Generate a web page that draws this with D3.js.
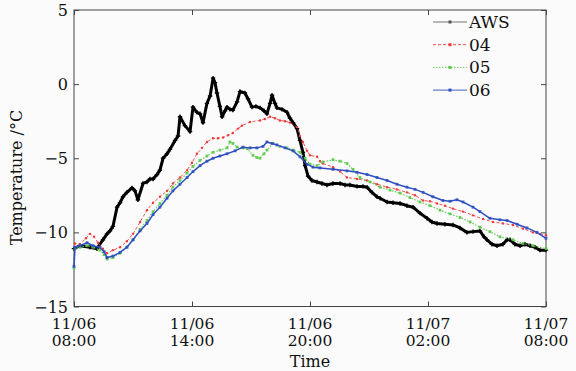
<!DOCTYPE html>
<html>
<head>
<meta charset="utf-8">
<script src="https://cdn.jsdelivr.net/npm/d3@7"></script>
<style>
  html, body { margin: 0; padding: 0; background: #fbfbfb; }
  svg { display: block; }
  text { font-family: 'DejaVu Serif', 'Liberation Serif', serif; fill: #111; }
</style>
</head>
<body>
<svg id="chart"></svg>
<script>
// hours after 11/06 08:00, temperature in degC
const awsHours = [0, 0.3, 0.81, 1.17, 1.47, 1.68, 1.83, 1.98, 2.19, 2.34, 2.49, 2.69, 2.95, 3.1, 3.25, 3.51, 3.71, 3.86, 4.02, 4.22, 4.37, 4.53, 4.73, 4.88, 5.14, 5.29, 5.39, 5.64, 5.9, 6.05, 6.25, 6.41, 6.56, 6.76, 6.92, 7.07, 7.17, 7.27, 7.42, 7.53, 7.68, 7.78, 7.93, 8.08, 8.29, 8.44, 8.69, 8.85, 9.05, 9.25, 9.46, 9.66, 9.81, 9.97, 10.07, 10.22, 10.32, 10.58, 10.83, 10.98, 11.14, 11.34, 11.49, 11.64, 11.75, 11.9, 12.1, 12.36, 12.61, 12.86, 13.17, 13.53, 13.78, 14.03, 14.39, 14.69, 14.9, 15.15, 15.41, 15.56, 15.92, 16.22, 16.58, 16.93, 17.24, 17.59, 17.95, 18.2, 18.46, 18.86, 19.27, 19.63, 19.98, 20.29, 20.64, 20.85, 21.0, 21.25, 21.51, 21.81, 22.02, 22.17, 22.42, 22.68, 22.93, 23.19, 23.44, 23.69, 24.0];
const awsTemp = [-11.1, -10.9, -11.0, -11.1, -10.5, -10.1, -9.9, -9.6, -8.3, -8.0, -7.6, -7.3, -7.0, -7.2, -7.8, -6.7, -6.6, -6.4, -6.4, -6.1, -5.8, -5.0, -4.7, -4.4, -3.8, -3.5, -2.2, -2.8, -3.2, -1.55, -1.9, -2.0, -2.6, -1.3, -0.8, 0.4, 0.1, -0.6, -1.5, -2.2, -1.8, -1.55, -1.7, -1.75, -1.2, -0.5, -0.6, -1.0, -1.55, -1.5, -1.6, -1.8, -2.0, -1.3, -0.75, -1.3, -1.6, -1.7, -1.9, -2.3, -2.6, -3.0, -3.8, -4.6, -5.5, -6.2, -6.5, -6.6, -6.7, -6.8, -6.7, -6.7, -6.8, -6.8, -6.9, -6.9, -6.95, -7.3, -7.6, -7.7, -7.95, -8.0, -8.05, -8.2, -8.3, -8.7, -9.05, -9.3, -9.4, -9.45, -9.5, -9.7, -10.0, -9.95, -9.9, -10.3, -10.5, -10.8, -10.9, -10.8, -10.5, -10.5, -10.8, -10.9, -10.8, -10.9, -11.0, -11.2, -11.2];

const s04Hours = [0, 0.05, 0.3, 0.61, 0.81, 1.02, 1.22, 1.47, 1.68, 1.98, 2.34, 2.69, 3.0, 3.36, 3.71, 4.02, 4.37, 4.73, 5.03, 5.39, 5.75, 6.0, 6.25, 6.51, 6.76, 7.07, 7.32, 7.58, 7.83, 8.08, 8.34, 8.54, 8.95, 9.46, 9.71, 9.97, 10.22, 10.47, 10.73, 10.98, 11.34, 11.49, 11.64, 11.85, 12.0, 12.36, 12.51, 12.66, 13.17, 13.53, 13.88, 14.39, 14.9, 15.41, 15.92, 16.42, 16.93, 17.34, 17.75, 18.1, 18.46, 18.86, 19.27, 19.78, 20.29, 20.8, 21.3, 21.81, 22.32, 22.83, 23.34, 23.69, 24.0];
const s04Temp = [-12.2, -10.75, -10.8, -10.4, -10.1, -10.3, -10.7, -11.1, -11.4, -11.2, -11.0, -10.6, -10.1, -9.3, -8.5, -8.0, -7.6, -7.2, -6.7, -6.3, -5.8, -5.3, -4.7, -4.3, -3.9, -3.65, -3.65, -3.6, -3.45, -3.3, -3.0, -2.8, -2.55, -2.45, -2.35, -2.2, -2.3, -2.45, -2.5, -2.6, -2.9, -3.5, -3.9, -4.5, -4.8, -4.9, -5.2, -5.35, -5.6, -5.9, -6.3, -6.4, -6.5, -6.75, -6.95, -7.1, -7.3, -7.5, -7.85, -7.9, -8.05, -8.2, -8.4, -8.6, -8.85, -9.1, -9.3, -9.4, -9.5, -9.75, -10.0, -10.1, -10.2];

const s05Hours = [0, 0.05, 0.3, 0.66, 0.97, 1.32, 1.53, 1.68, 1.98, 2.34, 2.69, 3.0, 3.36, 3.71, 4.02, 4.37, 4.73, 5.03, 5.39, 5.75, 6.05, 6.41, 6.76, 7.07, 7.42, 7.78, 7.93, 8.08, 8.29, 8.59, 8.8, 9.1, 9.3, 9.46, 9.66, 9.81, 10.12, 10.47, 10.83, 11.14, 11.49, 11.75, 12.0, 12.36, 12.66, 13.17, 13.53, 13.88, 14.19, 14.54, 15.05, 15.56, 16.07, 16.58, 17.08, 17.59, 18.1, 18.61, 19.12, 19.63, 20.14, 20.64, 21.15, 21.66, 22.32, 22.83, 23.34, 24.0];
const s05Temp = [-12.4, -11.1, -11.0, -10.9, -11.0, -11.2, -11.5, -11.8, -11.7, -11.4, -11.0, -10.5, -9.8, -9.2, -8.6, -8.05, -7.5, -6.95, -6.5, -6.0, -5.55, -5.15, -4.85, -4.6, -4.45, -4.3, -3.9, -4.0, -4.25, -4.3, -4.35, -4.8, -4.95, -5.0, -4.7, -4.45, -4.0, -4.2, -4.3, -4.45, -4.6, -5.0, -5.4, -5.5, -5.25, -5.1, -5.2, -5.35, -5.75, -6.3, -6.6, -6.95, -7.15, -7.35, -7.65, -7.95, -8.2, -8.5, -8.75, -9.0, -9.3, -9.65, -9.95, -10.3, -10.5, -10.75, -10.9, -11.1];

const s06Hours = [0, 0.05, 0.3, 0.66, 0.97, 1.32, 1.53, 1.68, 1.98, 2.34, 2.69, 3.0, 3.36, 3.71, 4.02, 4.37, 4.73, 5.03, 5.39, 5.75, 6.05, 6.41, 6.76, 7.07, 7.42, 7.78, 8.19, 8.59, 8.95, 9.3, 9.61, 9.81, 10.07, 10.32, 10.73, 11.14, 11.49, 11.85, 12.15, 12.51, 13.17, 13.88, 14.39, 14.9, 15.41, 15.92, 16.42, 16.93, 17.34, 17.75, 18.25, 18.76, 19.12, 19.47, 19.78, 20.29, 20.64, 21.15, 21.66, 22.02, 22.53, 23.03, 23.54, 24.0];
const s06Temp = [-12.3, -11.0, -10.9, -10.7, -10.9, -11.0, -11.3, -11.7, -11.6, -11.35, -11.0, -10.5, -9.9, -9.4, -8.8, -8.3, -7.7, -7.2, -6.75, -6.3, -5.9, -5.5, -5.2, -5.0, -4.85, -4.7, -4.5, -4.25, -4.3, -4.3, -4.2, -3.9, -4.0, -4.1, -4.3, -4.5, -4.9, -5.4, -5.6, -5.65, -5.75, -5.85, -5.95, -6.1, -6.3, -6.5, -6.75, -6.95, -7.1, -7.3, -7.6, -7.85, -7.9, -7.8, -7.95, -8.3, -8.6, -9.05, -9.15, -9.2, -9.45, -9.7, -10.0, -10.4];

const seriesNames = ['AWS', '04', '05', '06'];
const yTicks = [5, 0, -5, -10, -15];
const xTickHours = [0, 6, 12, 18, 24];

const start = new Date(2014, 10, 6, 8, 0);
const toDate = h => new Date(start.getTime() + h * 3600 * 1000);

const width = 576, height = 371;
const margin = { top: 10, right: 30, bottom: 64, left: 74 };
const plotW = width - margin.left - margin.right;
const plotH = height - margin.top - margin.bottom - 0.5;

const svg = d3.select('#chart')
    .attr('width', width)
    .attr('height', height);

const x = d3.scaleTime()
    .domain([start, toDate(24)])
    .range([margin.left, margin.left + plotW]);
const y = d3.scaleLinear()
    .domain([-15, 5])
    .range([margin.top + plotH, margin.top]);

const zip = (hs, ts) => hs.map((h, i) => ({ t: toDate(h), v: ts[i] }));
const series = [
    { name: seriesNames[0], data: zip(awsHours, awsTemp), color: '#000', width: 3, dash: null, marker: 'plus' },
    { name: seriesNames[1], data: zip(s04Hours, s04Temp), color: '#f03a3a', width: 0.9, dash: '3,2', marker: 'dot' },
    { name: seriesNames[2], data: zip(s05Hours, s05Temp), color: '#5cc84a', width: 1.1, dash: '1.5,1.5', marker: 'square' },
    { name: seriesNames[3], data: zip(s06Hours, s06Temp), color: '#2f4fc0', width: 1.5, dash: null, marker: 'square' }
];

// frame
svg.append('rect')
    .attr('x', margin.left)
    .attr('y', margin.top)
    .attr('width', plotW)
    .attr('height', plotH)
    .attr('fill', 'none')
    .attr('stroke', '#444')
    .attr('stroke-width', 1);

// inward ticks on all four sides
const tickStyle = g => {
    g.select('.domain').remove();
    g.selectAll('line').attr('stroke', '#444');
};
const xTickDates = xTickHours.map(toDate);
svg.append('g')
    .attr('transform', `translate(0,${margin.top + plotH})`)
    .call(d3.axisBottom(x).tickValues(xTickDates).tickSize(-5).tickFormat(''))
    .call(tickStyle);
svg.append('g')
    .attr('transform', `translate(0,${margin.top})`)
    .call(d3.axisTop(x).tickValues(xTickDates).tickSize(-5).tickFormat(''))
    .call(tickStyle);
svg.append('g')
    .attr('transform', `translate(${margin.left},0)`)
    .call(d3.axisLeft(y).tickValues(yTicks).tickSize(-5).tickFormat(''))
    .call(tickStyle);
svg.append('g')
    .attr('transform', `translate(${margin.left + plotW},0)`)
    .call(d3.axisRight(y).tickValues(yTicks).tickSize(-5).tickFormat(''))
    .call(tickStyle);

// tick labels
const fmtMinus = d => (d < 0 ? '\u2212' + Math.abs(d) : `${d}`);
svg.append('g').selectAll('text')
    .data(yTicks)
    .join('text')
    .attr('x', margin.left - 6)
    .attr('y', d => y(d) + 6)
    .attr('text-anchor', 'end')
    .style('font-size', '16px')
    .text(fmtMinus);

const dayFmt = d3.timeFormat('%m/%d');
const hourFmt = d3.timeFormat('%H:%M');
svg.append('g').selectAll('text')
    .data(xTickDates)
    .join('text')
    .attr('x', d => x(d))
    .attr('y', 329)
    .attr('text-anchor', 'middle')
    .style('font-size', '15.5px')
    .text(dayFmt);
svg.append('g').selectAll('text')
    .data(xTickDates)
    .join('text')
    .attr('x', d => x(d))
    .attr('y', 346)
    .attr('text-anchor', 'middle')
    .style('font-size', '15.5px')
    .text(hourFmt);

svg.append('text')
    .attr('x', x(toDate(12)))
    .attr('y', 367)
    .attr('text-anchor', 'middle')
    .style('font-size', '16px')
    .text('Time');

svg.append('text')
    .attr('transform', `translate(22,${y(-6.3)}) rotate(-90)`)
    .attr('text-anchor', 'middle')
    .style('font-size', '16px')
    .text('Temperature /\u00b0C');

// lines
const line = d3.line()
    .x(d => x(d.t))
    .y(d => y(d.v));

const plot = svg.append('g').attr('class', 'plot');
series.forEach(s => {
    plot.append('path')
        .datum(s.data)
        .attr('fill', 'none')
        .attr('stroke', s.color)
        .attr('stroke-width', s.width)
        .attr('stroke-linejoin', 'round')
        .attr('stroke-dasharray', s.dash)
        .attr('d', line);

    const m = plot.append('g').selectAll('g')
        .data(s.data)
        .join('g')
        .attr('transform', d => `translate(${x(d.t)},${y(d.v)})`);
    if (s.marker === 'dot') {
        m.append('circle').attr('r', 1.2).attr('fill', s.color);
    } else if (s.marker === 'square') {
        m.append('rect').attr('x', -1.4).attr('y', -1.4).attr('width', 2.8).attr('height', 2.8)
            .attr('fill', s.color).attr('opacity', 0.9);
    } else {
        m.append('path').attr('d', 'M-2.2,0H2.2M0,-2.2V2.2').attr('stroke', s.color).attr('stroke-width', 1.3);
    }
});

// legend
const legendRows = svg.append('g').attr('class', 'legend')
    .selectAll('g')
    .data(series)
    .join('g')
    .attr('transform', (d, i) => `translate(433,${22 + i * 22.7})`);
legendRows.append('line')
    .attr('x1', 0).attr('x2', 34)
    .attr('stroke', d => d.name === 'AWS' ? '#777' : d.color)
    .attr('stroke-width', d => d.name === 'AWS' ? 1.2 : 0.9)
    .attr('stroke-dasharray', d => d.dash);
legendRows.append('rect')
    .attr('x', 15.5).attr('y', -1.5).attr('width', 3).attr('height', 3)
    .attr('fill', d => d.name === 'AWS' ? '#555' : d.color);
legendRows.append('text')
    .attr('x', 36)
    .attr('y', 6)
    .style('font-size', '17px')
    .text(d => d.name);
</script>
</body>
</html>
